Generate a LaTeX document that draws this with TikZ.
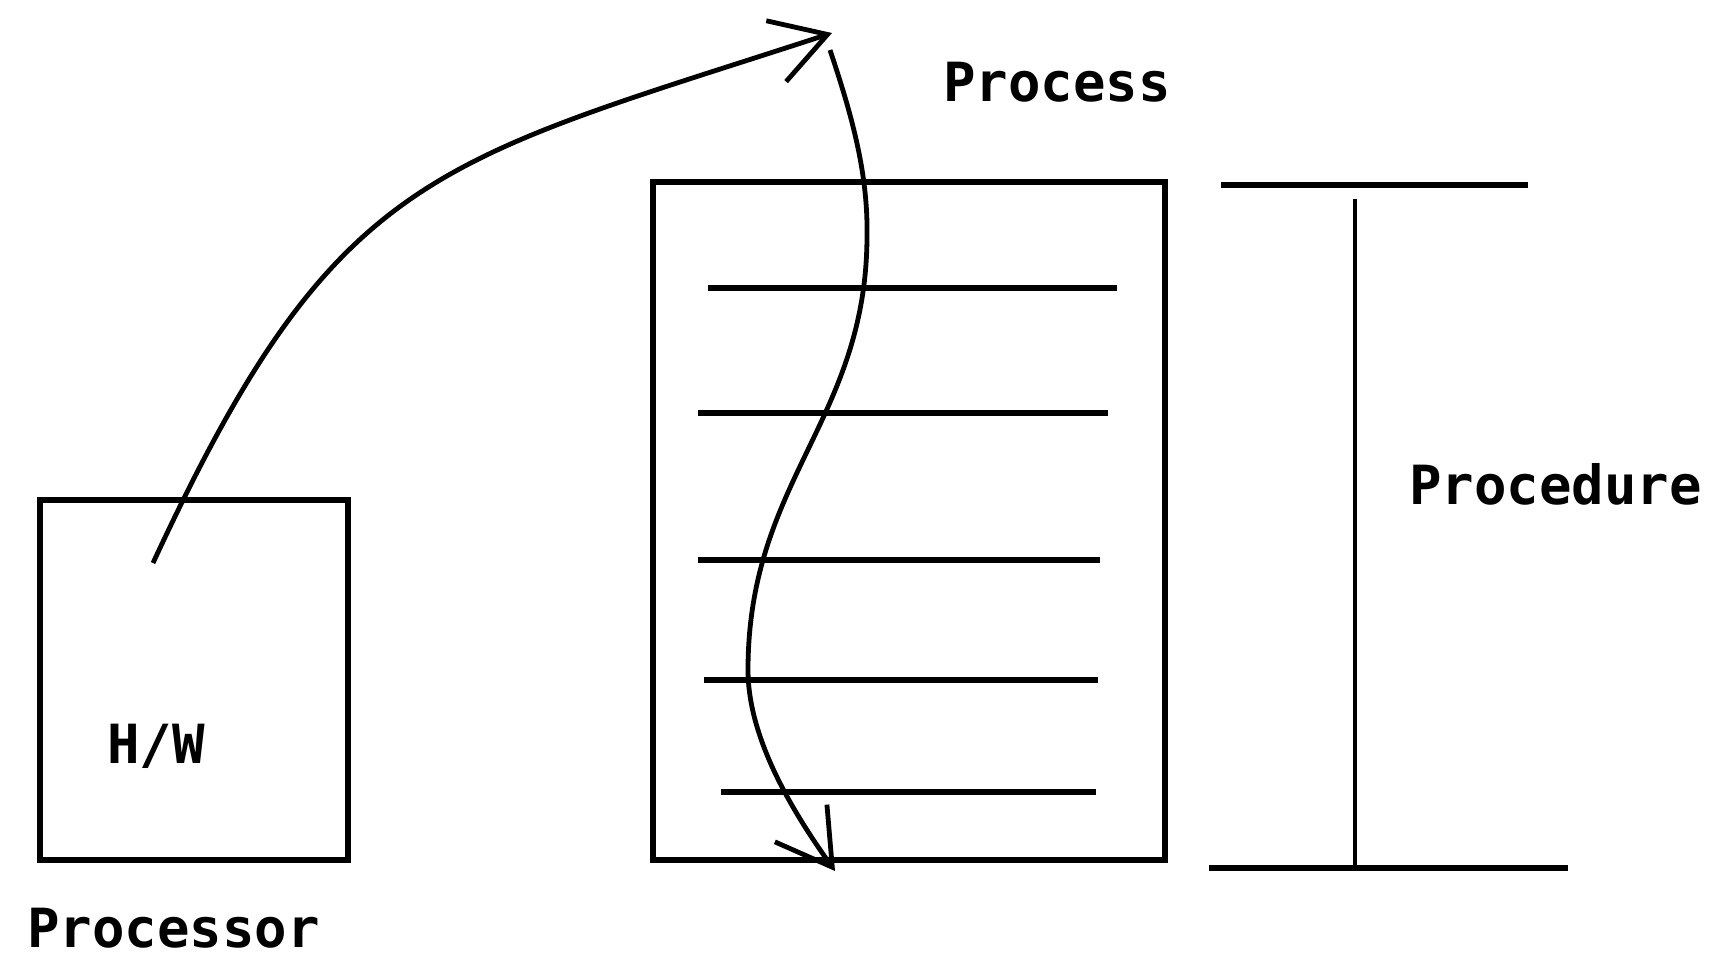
\documentclass[tikz,border=0pt]{standalone}
\usepackage{fontspec}
\setmonofont{DejaVu Sans Mono}
\usetikzlibrary{arrows.meta}
\begin{document}
\begin{tikzpicture}[x=0.5pt,y=-0.5pt,
  box/.style={draw, line width=2.6pt},
  rung/.style={line width=2.9pt},
  bar/.style={line width=2.7pt},
  flow/.style={line width=2.4pt, -{Straight Barb[length=27pt,width=32pt]}},
  lbl/.style={font=\ttfamily\bfseries\fontsize{27}{31}\selectfont, inner sep=0pt, anchor=base west}]
\useasboundingbox (0,0) rectangle (1716,974);
% processor box
\coordinate (cpuA) at (40,500);
\coordinate (cpuB) at (348,860);
\draw[box] (cpuA) rectangle (cpuB);
% process box
\coordinate (prA) at (653,182);
\coordinate (prB) at (1165,860);
\draw[box] (prA) rectangle (prB);
% rungs
\coordinate (r1a) at (708,288); \coordinate (r1b) at (1117,288);
\coordinate (r2a) at (698,413); \coordinate (r2b) at (1108,413);
\coordinate (r3a) at (698,560); \coordinate (r3b) at (1100,560);
\coordinate (r4a) at (704,680); \coordinate (r4b) at (1098,680);
\coordinate (r5a) at (721,792); \coordinate (r5b) at (1096,792);
\draw[rung] (r1a) -- (r1b);
\draw[rung] (r2a) -- (r2b);
\draw[rung] (r3a) -- (r3b);
\draw[rung] (r4a) -- (r4b);
\draw[rung] (r5a) -- (r5b);
% procedure bracket
\coordinate (t1) at (1221,185); \coordinate (t2) at (1528,185);
\coordinate (v1) at (1355,199); \coordinate (v2) at (1355,868);
\coordinate (b1) at (1209,868); \coordinate (b2) at (1568,868);
\draw[bar] (t1) -- (t2);
\draw[line width=2pt] (v1) -- (v2);
\draw[bar] (b1) -- (b2);
% arrows
\coordinate (hw) at (153,563);
\coordinate (apex) at (832,33);
\draw[flow] (hw) .. controls (336,168) and (433,163) .. (apex);
\coordinate (down) at (830,50);
\coordinate (bulge) at (867,235);
\coordinate (dip) at (748,670);
\coordinate (bottom) at (835,871);
\draw[flow] (down) .. controls (850,110) and (868,170) .. (bulge)
  .. controls (867,420) and (748,480) .. (dip)
  .. controls (748,740) and (795,815) .. (bottom);
% labels
\node[lbl] (process) at (943,102) {Process};
\node[lbl] (hwlbl) at (107,763) {H/W};
\node[lbl] (processor) at (27,947) {Processor};
\node[lbl] (procedure) at (1409,504) {Procedure};
\end{tikzpicture}
\end{document}
